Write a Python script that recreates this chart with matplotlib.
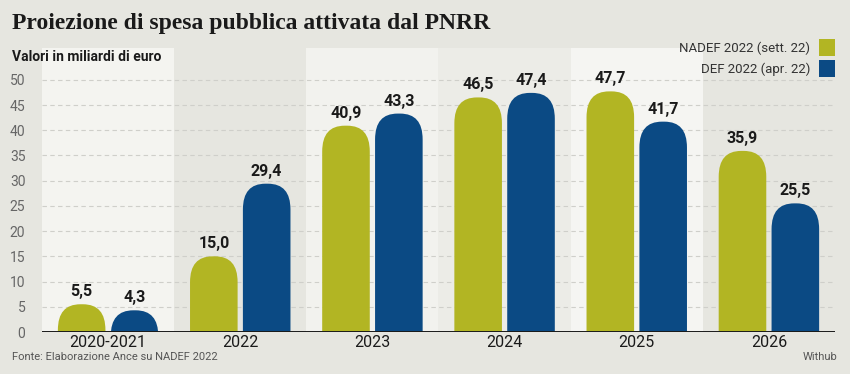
import matplotlib.pyplot as plt
import numpy as np
from matplotlib.patches import FancyBboxPatch, Rectangle

# dati
categories = ['2020-2021', '2022', '2023', '2024', '2025', '2026']
nadef = [5.5, 15.0, 40.9, 46.5, 47.7, 35.9]
def_apr = [4.3, 29.4, 43.3, 47.4, 41.7, 25.5]
series_names = ['NADEF 2022 (sett. 22)', 'DEF 2022 (apr. 22)']
yticks = [0, 5, 10, 15, 20, 25, 30, 35, 40, 45, 50]

green = '#b2b523'
blue = '#0b4a84'
bg = '#e6e6e0'
sans = ['Roboto', 'DejaVu Sans']

fig = plt.figure(figsize=(8.5, 3.74), dpi=100)
fig.patch.set_facecolor(bg)

W, H = 850, 374
ax = fig.add_axes([42 / W, 1 - 332 / H, (835 - 42) / W, (332 - 48) / H])
ax.set_facecolor(bg)
ax.set_xlim(-0.5, len(categories) - 0.5)
ax.set_ylim(0, 56.3)

# fasce alternate
band_colors = ['#f4f4f0', bg, '#f2f2ee', '#ecece7', '#f5f5f2', bg]
for i, c in enumerate(band_colors):
    ax.axvspan(i - 0.5, i + 0.5, color=c, zorder=0, lw=0)

for t in yticks[1:]:
    ax.axhline(t, color='#cfcfca', lw=0.8, ls=(0, (4, 3)), zorder=1)

x = np.arange(len(categories))
width = 0.36
off = 0.2
rx = 0.17
aspect = 30


def rounded_bars(xs, vals, color):
    for xi, v in zip(xs, vals):
        p = FancyBboxPatch((xi - width / 2, -8), width, v + 8,
                           boxstyle='round,pad=0,rounding_size=%f' % rx,
                           mutation_aspect=aspect, fc=color, ec='none', zorder=2)
        ax.add_patch(p)
        ax.text(xi, v + 1.0, ('%.1f' % v).replace('.', ','), ha='center', va='bottom',
                fontsize=11.5, fontweight='bold', color='#1a1a1a', family=sans, zorder=3)


rounded_bars(x - off, nadef, green)
rounded_bars(x + off, def_apr, blue)

ax.axhline(0, color='#1a1a1a', lw=1.4, zorder=4)
for s in ax.spines.values():
    s.set_visible(False)

ax.set_yticks(yticks)
ax.set_yticklabels([str(t) for t in yticks], fontsize=10, color='#666666', family=sans)
ax.tick_params(axis='y', length=0, pad=12)
ax.set_xticks(x)
ax.set_xticklabels(categories, fontsize=11.5, color='#1a1a1a', family=sans)
ax.tick_params(axis='x', length=0, pad=2)

# titoli
fig.text(12 / W, 1 - 23 / H, 'Proiezione di spesa pubblica attivata dal PNRR',
         fontsize=17, fontweight='bold', family=['Liberation Serif', 'DejaVu Serif'],
         color='#1a1a1a', va='center', ha='left')
fig.text(12 / W, 1 - 57 / H, 'Valori in miliardi di euro', fontsize=10,
         fontweight='bold', family=sans, color='#1a1a1a', va='center', ha='left')

# legenda
for k, (name, c) in enumerate(zip(series_names, [green, blue])):
    yc = 48 + k * 21
    fig.text(810 / W, 1 - yc / H, name, fontsize=9.5, family=sans, color='#333333',
             ha='right', va='center')
    fig.patches.append(Rectangle((819 / W, 1 - (yc + 8) / H), 16 / W, 17 / H,
                                 transform=fig.transFigure, fc=c, ec='none'))

fig.text(12 / W, 1 - 357 / H, 'Fonte: Elaborazione Ance su NADEF 2022', fontsize=8,
         family=sans, color='#555555', va='center', ha='left')
fig.text(837 / W, 1 - 357 / H, 'Withub', fontsize=8, family=sans, color='#555555',
         va='center', ha='right')

fig.savefig('out.png', dpi=100, facecolor=bg)
